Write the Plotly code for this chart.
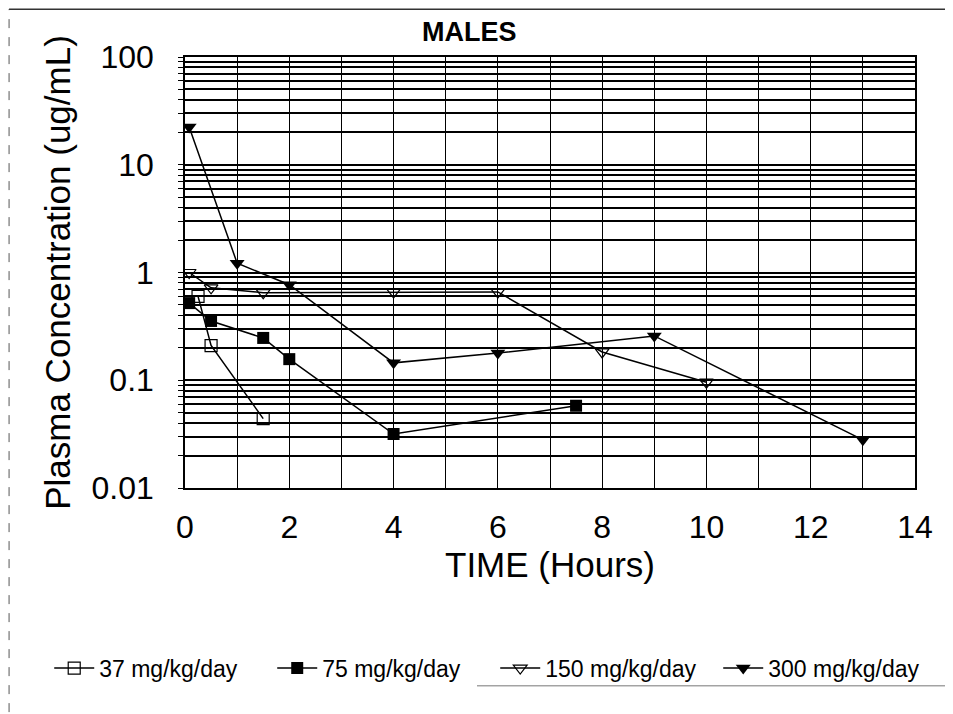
import plotly.graph_objects as go

# Data
t37 = [0.25, 0.5, 1.5]
c37 = [0.6, 0.21, 0.044]

t75 = [0.08, 0.5, 1.5, 2, 4, 7.5]
c75 = [0.52, 0.355, 0.247, 0.157, 0.0317, 0.058]

t150 = [0.08, 0.5, 1.5, 4, 6, 8, 10]
c150 = [1.0, 0.72, 0.65, 0.66, 0.66, 0.183, 0.096]

t300 = [0.08, 1, 2, 4, 6, 9, 13]
c300 = [22.4, 1.22, 0.77, 0.145, 0.179, 0.258, 0.028]

names = ["37 mg/kg/day", "75 mg/kg/day", "150 mg/kg/day", "300 mg/kg/day"]
ytickvals = [0.01, 0.1, 1, 10, 100]
yticktext = ["0.01", "0.1", "1", "10", "100"]

FONT = "Arial, Liberation Sans, sans-serif"

fig = go.Figure()
series = [
    (t37, c37, names[0], dict(symbol="square-open", size=12, color="black", line=dict(width=1.2, color="black"))),
    (t75, c75, names[1], dict(symbol="square", size=12, color="black")),
    (t150, c150, names[2], dict(symbol="triangle-down-open", size=12, color="black", line=dict(width=1.2, color="black"))),
    (t300, c300, names[3], dict(symbol="triangle-down", size=13, color="black")),
]
for x, y, n, m in series:
    fig.add_trace(go.Scatter(x=x, y=y, name=n, mode="lines+markers",
                             line=dict(color="black", width=1.5), marker=m))

fig.update_layout(
    width=945, height=706,
    margin=dict(l=177, r=38, t=49, b=226, autoexpand=False),
    paper_bgcolor="white", plot_bgcolor="white",
    font=dict(family=FONT, color="black"),
    showlegend=True,
    legend=dict(orientation="h", x=-0.186, y=-0.418, xanchor="left", yanchor="middle",
                font=dict(size=23, family=FONT), entrywidth=168, entrywidthmode="pixels",
                itemwidth=40, tracegroupgap=0, bgcolor="rgba(0,0,0,0)"),
    annotations=[dict(text="<b>MALES</b>", x=0.39, y=1.058, xref="paper", yref="paper",
                      showarrow=False, font=dict(size=27, family=FONT), xanchor="center", yanchor="middle")],
)

fig.update_xaxes(range=[0, 14], dtick=2, tick0=0, showgrid=True, gridcolor="black", gridwidth=1.3,
                 showline=True, linecolor="black", linewidth=1.5, mirror=True,
                 ticks="", tickfont=dict(size=32, family=FONT), zeroline=False, automargin=False,
                 ticklabelstandoff=10,
                 minor=dict(dtick=1, showgrid=True, gridcolor="black", gridwidth=1.3),
                 title=dict(text="TIME (Hours)", font=dict(size=35, family=FONT), standoff=4))
fig.update_yaxes(type="log", range=[-2, 2], tickvals=ytickvals, ticktext=yticktext,
                 showgrid=True, gridcolor="black", gridwidth=2,
                 showline=True, linecolor="black", linewidth=1.5, mirror=True,
                 ticks="outside", ticklen=5, tickcolor="black", automargin=False,
                 tickfont=dict(size=32, family=FONT), ticklabelstandoff=18,
                 minor=dict(dtick="D1", showgrid=True, gridcolor="black", gridwidth=1.5,
                            ticks="outside", ticklen=5, tickcolor="black"),
                 title=dict(text="Plasma Concentration (ug/mL)", font=dict(size=35, family=FONT), standoff=10))

# page frame of the scanned sheet
fig.add_shape(type="line", xref="paper", yref="paper", x0=-0.241, x1=-0.241, y0=-0.52, y1=1.111,
              line=dict(color="#555", width=1, dash="dash"))
fig.add_shape(type="line", xref="paper", yref="paper", x0=-0.241, x1=1.06, y0=1.111, y1=1.111,
              line=dict(color="#333", width=1.5))
fig.add_shape(type="line", xref="paper", yref="paper", x0=0.4, x1=1.06, y0=-0.459, y1=-0.459,
              line=dict(color="#777", width=1))

fig.write_html("out.html")
